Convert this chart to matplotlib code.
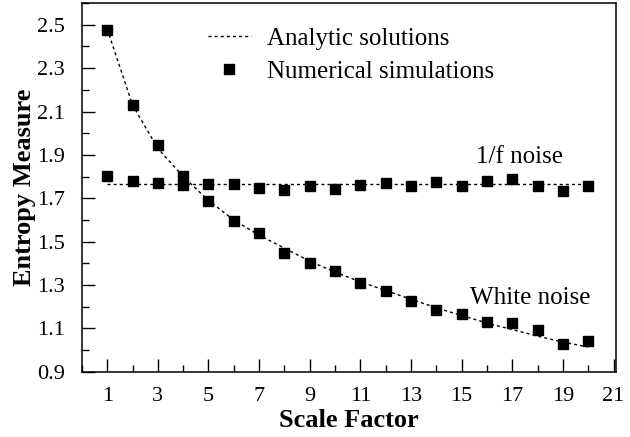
import numpy as np
import matplotlib
matplotlib.use('Agg')
import matplotlib.pyplot as plt
from matplotlib.ticker import MultipleLocator
from matplotlib.legend_handler import HandlerLine2D

# ---------------- data ----------------
scale = list(range(1, 21))

white_sim = [2.478, 2.132, 1.947, 1.801, 1.688, 1.597, 1.542, 1.450, 1.403, 1.366,
             1.308, 1.273, 1.227, 1.185, 1.165, 1.128, 1.124, 1.093, 1.027, 1.042]
white_analytic = [2.48, 2.13, 1.93, 1.80, 1.69, 1.60, 1.53, 1.47, 1.41, 1.36,
                  1.315, 1.275, 1.235, 1.195, 1.16, 1.125, 1.095, 1.065, 1.037, 1.015]

pink_sim = [1.801, 1.778, 1.770, 1.762, 1.764, 1.764, 1.749, 1.739, 1.759, 1.744,
            1.762, 1.770, 1.758, 1.776, 1.758, 1.781, 1.789, 1.759, 1.736, 1.755]
pink_analytic = [1.766] * 20

xticks = list(range(1, 22, 2))
yticks = [0.9, 1.1, 1.3, 1.5, 1.7, 1.9, 2.1, 2.3, 2.5]
# ---------------------------------------------------------------


class RightMarkerHandler(HandlerLine2D):
    # legend marker sits at the right end of the handle, as in the original
    def get_xdata(self, legend, xdescent, ydescent, width, height, fontsize):
        xdata = np.array([-xdescent, -xdescent + width])
        return xdata, np.array([-xdescent + width - 0.1 * fontsize])


plt.rcParams['font.family'] = ['Liberation Serif', 'DejaVu Serif']

fig = plt.figure(figsize=(6.3, 4.37), dpi=100)
ax = fig.add_axes([0.130, 0.149, 0.848, 0.844])

dash = (0, (2.2, 2.2))
ax.plot(scale, white_analytic, color='black', lw=1.0, linestyle=dash,
        label='Analytic solutions')
ax.plot(scale, pink_analytic, color='black', lw=1.0, linestyle=dash)
sim, = ax.plot(scale, white_sim, 's', color='black', ms=6.5,
               label='Numerical simulations')
ax.plot(scale, pink_sim, 's', color='black', ms=6.5)

ax.text(17.3, 1.89, '1/f noise', fontsize=18, ha='center', va='center')
ax.text(17.7, 1.24, 'White noise', fontsize=18, ha='center', va='center')

ax.set_xlim(0, 21.1)
ax.set_ylim(0.9, 2.6)
ax.set_xticks(xticks)
ax.set_yticks(yticks)
ax.xaxis.set_minor_locator(MultipleLocator(1))
ax.yaxis.set_minor_locator(MultipleLocator(0.1))
ax.set_yticklabels([f'{v:.1f}' for v in yticks])
ax.tick_params(which='major', direction='in', length=9.5, width=1.0, labelsize=16)
ax.tick_params(which='minor', direction='in', length=5, width=1.0)
ax.tick_params(axis='x', which='major', pad=11)
ax.tick_params(axis='y', which='major', pad=12)
ax.tick_params(top=False, right=False, which='both')
for s in ax.spines.values():
    s.set_linewidth(1.1)

ax.set_xlabel('Scale Factor', fontsize=19, fontweight='bold', labelpad=2)
ax.set_ylabel('Entropy Measure', fontsize=19, fontweight='bold', labelpad=1)

ax.legend(loc='upper left', bbox_to_anchor=(208 / 630, 1 - 27 / 437),
          bbox_transform=fig.transFigure, frameon=False,
          fontsize=18, handlelength=1.7, handletextpad=0.65, labelspacing=0.42,
          borderpad=0, borderaxespad=0,
          handler_map={sim: RightMarkerHandler(numpoints=1)})

fig.savefig('out.png', dpi=100)
